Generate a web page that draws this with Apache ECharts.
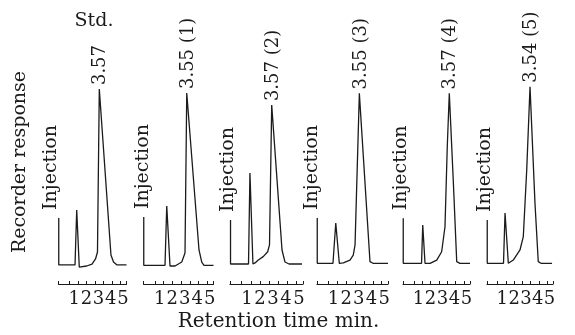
<!DOCTYPE html>
<html>
<head>
<meta charset="utf-8">
<title>Retention time chromatograms</title>
<script src="https://cdn.jsdelivr.net/npm/echarts@6/dist/echarts.min.js"></script>
<style>
  html, body { margin: 0; padding: 0; background: #fff; }
  #chart { width: 575px; height: 335px; }
</style>
</head>
<body>
<div id="chart"></div>
<script>
// [retention time (min), recorder response (% of scale)]
const stdTrace = [[-0.28, 26.7], [-0.28, 0.6], [1.06, 0.6], [1.20, 31.1], [1.41, -0.6], [2.02, 0], [2.46, 1.1],
  [2.75, 3.9], [2.91, 7.8], [3.06, 98.3], [4.02, 6.1], [4.23, 2.2], [4.52, 0.6], [5.3, 0.6]]
const sample1Trace = [[-0.28, 27.2], [-0.28, 0.4], [1.42, 0.4], [1.56, 33.3], [1.82, 0], [2.22, 0], [2.76, 2.2],
  [3.02, 7.2], [3.16, 96.1], [4.14, 8.9], [4.36, 2.2], [4.54, 0.4], [5.3, 0.4]]
const sample2Trace = [[-0.26, 25.6], [-0.26, 1.1], [1.12, 1.1], [1.23, 51.7], [1.46, 1.1], [1.62, 1.7], [1.87, 3.3],
  [2.25, 5.2], [2.59, 7.9], [2.73, 11.7], [2.90, 89.4], [3.69, 8.9], [3.92, 2.2], [4.23, 1.1], [5.22, 1.1]]
const sample3Trace = [[-0.28, 26.7], [-0.28, 1.5], [0.96, 1.5], [1.18, 23.9], [1.46, 1.4], [1.77, 1.7], [2.30, 3.3],
  [2.56, 6.1], [2.70, 11.7], [3.04, 95.9], [3.88, 2.4], [4.12, 1.5], [5.3, 1.5]]
const sample4Trace = [[-0.28, 26.5], [-0.28, 1.5], [1.25, 1.5], [1.35, 22.8], [1.54, 1.5], [1.96, 1.5], [2.52, 3.3],
  [2.93, 7.9], [3.21, 21.8], [3.40, 66.3], [3.57, 95.9], [3.90, 47.8], [4.19, 2.4], [4.46, 1.5], [5.3, 1.5]]
const sample5Trace = [[-0.28, 25.6], [-0.28, 1.5], [1.10, 1.5], [1.23, 29.4], [1.51, 1.5], [1.93, 3.3], [2.50, 8.9],
  [2.78, 16.3], [3.07, 53.3], [3.35, 99.6], [3.77, 35.0], [4.05, 2.4], [4.28, 1.5], [5.22, 1.5]]

const traces = [stdTrace, sample1Trace, sample2Trace, sample3Trace, sample4Trace, sample5Trace]
const peakLabels = ['3.57', '3.55 (1)', '3.57 (2)', '3.55 (3)', '3.57 (4)', '3.54 (5)']
const tickLabels = [1, 2, 3, 4, 5]
const tickMarks = [-0.3, 0.6, 1.3, 2, 2.7, 3.4, 4.1, 4.8, 5.3]

// strip layout (px)
const panelLeft = [58.5, 143.5, 230, 317, 403, 487]
const panelWidth = [68, 70, 73, 71, 67, 66]
const injDx = [-8, -1, -2, -5, -2, -2]
const ink = '#1b1b1b'
const serif = 'DejaVu Serif'

const chart = echarts.init(document.getElementById('chart'))

const grids = []
const xAxes = []
const yAxes = []
const series = []
traces.forEach((trace, i) => {
  grids.push({ left: panelLeft[i], width: panelWidth[i], top: 86, bottom: 51, outerBoundsMode: 'none' })
  xAxes.push({
    type: 'value',
    gridIndex: i,
    min: -0.3,
    max: 5.3,
    axisLine: { onZero: false, lineStyle: { color: ink, width: 1.2 } },
    axisTick: { customValues: tickMarks, inside: true, length: 3, lineStyle: { color: ink, width: 1 } },
    axisLabel: {
      customValues: tickLabels,
      interval: 0,
      hideOverlap: false,
      showMinLabel: true,
      showMaxLabel: true,
      margin: 6,
      color: ink,
      fontFamily: serif,
      fontSize: 18
    },
    splitLine: { show: false }
  })
  yAxes.push({ type: 'value', gridIndex: i, min: -10, max: 100, show: false })
  series.push({
    type: 'line',
    xAxisIndex: i,
    yAxisIndex: i,
    data: trace,
    symbol: 'none',
    silent: true,
    lineStyle: { color: ink, width: 1.3 }
  })
})

chart.setOption({
  animation: false,
  textStyle: { fontFamily: serif },
  grid: grids,
  xAxis: xAxes,
  yAxis: yAxes,
  series: series
})

const vtext = (text, x, y, size, align) => ({
  type: 'text',
  x: x,
  y: y,
  rotation: Math.PI / 2,
  silent: true,
  style: { text: text, fill: ink, fontSize: size, fontFamily: serif, align: align, verticalAlign: 'middle' }
})

// peak and injection labels hang off the traces' own pixel positions
const graphic = []
traces.forEach((trace, i) => {
  const peak = trace.reduce((a, b) => (b[1] > a[1] ? b : a))
  const p = chart.convertToPixel({ xAxisIndex: i, yAxisIndex: i }, peak)
  const inj = chart.convertToPixel({ xAxisIndex: i, yAxisIndex: i }, trace[0])
  graphic.push(vtext(peakLabels[i], p[0] + 1.5, p[1] - 4, 18, 'left'))
  graphic.push(vtext('Injection', inj[0] + injDx[i], inj[1] - 8, 19, 'left'))
})
graphic.push(vtext('Recorder response', 20, 162, 19, 'center'))
graphic.push({
  type: 'text', x: 94, y: 21, silent: true,
  style: { text: 'Std.', fill: ink, fontSize: 19, fontFamily: serif, align: 'center', verticalAlign: 'middle' }
})
graphic.push({
  type: 'text', x: 278.5, y: 322, silent: true,
  style: { text: 'Retention time min.', fill: ink, fontSize: 20, fontFamily: serif, align: 'center', verticalAlign: 'middle' }
})

chart.setOption({ graphic: graphic })
</script>
</body>
</html>
